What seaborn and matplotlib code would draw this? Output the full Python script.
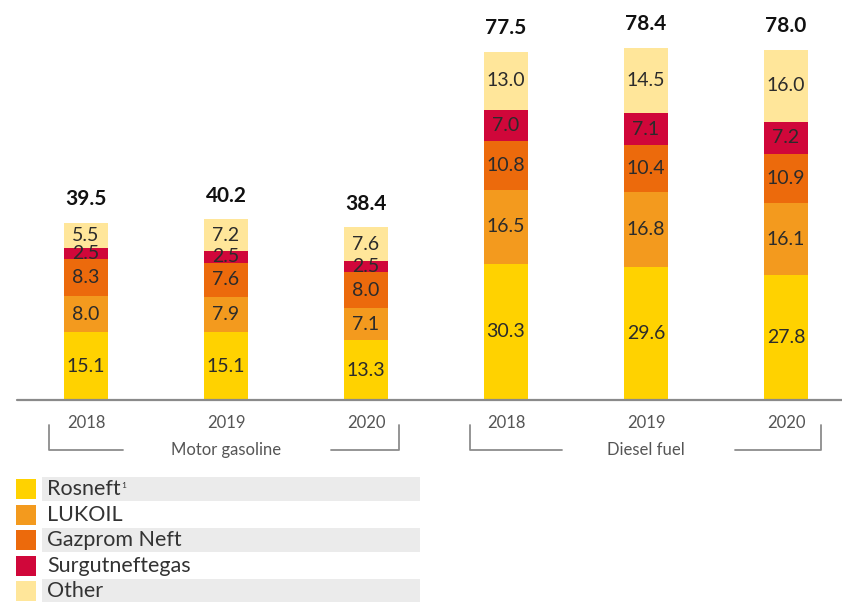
import numpy as np
import pandas as pd
import matplotlib
matplotlib.use('Agg')
import matplotlib.pyplot as plt
import seaborn as sns

sns.set_style("white")
plt.rcParams['font.family'] = ['Lato', 'DejaVu Sans']

# data
groups = ["Motor gasoline", "Motor gasoline", "Motor gasoline",
          "Diesel fuel", "Diesel fuel", "Diesel fuel"]
years = ["2018", "2019", "2020", "2018", "2019", "2020"]
companies = ["Rosneft", "LUKOIL", "Gazprom Neft", "Surgutneftegas", "Other"]
rosneft = [15.1, 15.1, 13.3, 30.3, 29.6, 27.8]
lukoil = [8.0, 7.9, 7.1, 16.5, 16.8, 16.1]
gazprom = [8.3, 7.6, 8.0, 10.8, 10.4, 10.9]
surgut = [2.5, 2.5, 2.5, 7.0, 7.1, 7.2]
other = [5.5, 7.2, 7.6, 13.0, 14.5, 16.0]
totals = [39.5, 40.2, 38.4, 77.5, 78.4, 78.0]

colors = ["#FFD200", "#F39A1E", "#EC6A0C", "#D0073A", "#FFE69A"]

df = pd.DataFrame({
    "bar": [g + " " + y for g, y in zip(groups, years)],
    "Rosneft": rosneft, "LUKOIL": lukoil, "Gazprom Neft": gazprom,
    "Surgutneftegas": surgut, "Other": other,
})
order = list(df["bar"])
cum = df[companies].cumsum(axis=1)

W, H = 842, 602
fig = plt.figure(figsize=(W / 100, H / 100), dpi=100)
base_px = 400
ax = fig.add_axes([17 / W, (H - base_px) / H, 1 - 17 / W, base_px / H])

# stacked bars: draw cumulative layers from top to bottom
for comp, col in reversed(list(zip(companies, colors))):
    sns.barplot(data=cum.assign(bar=df["bar"]), x="bar", y=comp, order=order,
                color=col, width=0.32, linewidth=0, saturation=1, ax=ax)

px_per_unit = 4.49
ax.set_ylim(0, base_px / px_per_unit)
ax.set_xlim((17 - 86) / 140, (842 - 86) / 140)
ax.axhline(0, color="#8a8a8a", lw=1.6, clip_on=False)
sns.despine(ax=ax, left=True, bottom=True)
ax.set_yticks([])
ax.set_xticks(range(6))
ax.set_xticklabels(years, fontsize=12, color="#555555")
ax.tick_params(axis="x", length=0, pad=11)
ax.set_xlabel("")
ax.set_ylabel("")

# segment labels
for i in range(6):
    bottom = 0
    for comp in companies:
        v = df[comp][i]
        ax.text(i, bottom + v / 2, f"{v:.1f}", ha="center", va="center",
                fontsize=14, color="#2b2b2b")
        bottom += v
    ax.text(i, totals[i] + 3.1, f"{totals[i]:.1f}", ha="center", va="bottom",
            fontsize=15, fontweight="bold", color="#111111")

# overlay in pixel coords for brackets and legend
ov = fig.add_axes([0, 0, 1, 1])
ov.set_xlim(0, W)
ov.set_ylim(H, 0)
ov.axis("off")

lc = "#8c8c8c"
for x0, x1, x2, x3, name, xm in [(49, 123, 331, 399, "Motor gasoline", 226),
                                 (470, 562, 735, 821, "Diesel fuel", 646)]:
    ov.plot([x0, x0, x1], [425, 450, 450], color=lc, lw=1.3)
    ov.plot([x2, x3, x3], [450, 450, 425], color=lc, lw=1.3)
    ov.text(xm, 450, name, ha="center", va="center", fontsize=12, color="#555555")

rows_y = [489, 515, 540, 566, 591]
labels = ["Rosneft", "LUKOIL", "Gazprom Neft", "Surgutneftegas", "Other"]
renderer = fig.canvas.get_renderer()
for k, (y, lab, col) in enumerate(zip(rows_y, labels, colors)):
    if k % 2 == 0:
        ov.add_patch(plt.Rectangle((42, y - 12), 378, 24, color="#EBEBEB", lw=0))
    ov.add_patch(plt.Rectangle((16, y - 10), 20, 20, color=col, lw=0))
    t = ov.text(47, y, lab, ha="left", va="center", fontsize=15.5, color="#333333")
    if k == 0:
        bb = t.get_window_extent(renderer=renderer)
        ov.text(bb.x1 + 1, y - 4, "1", ha="left", va="center", fontsize=6, color="#333333")

fig.savefig("out.png", dpi=100, facecolor="white")
